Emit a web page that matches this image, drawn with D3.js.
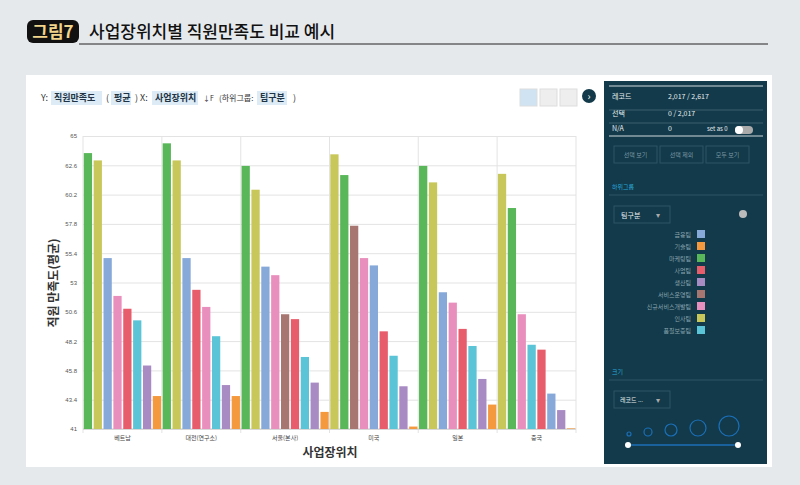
<!DOCTYPE html>
<html><head><meta charset="utf-8">
<script src="https://cdn.jsdelivr.net/npm/d3@7"></script>
<style>body{margin:0;background:#e6e9ec;font-family:"Noto Sans CJK KR","Noto Sans",sans-serif}</style>
</head><body><svg id="c" width="800" height="485"></svg>
<script>
const locations = ["베트남","대전(연구소)","서울(본사)","미국","일본","중국"];
const teams = ["금융팀","기술팀","마케팅팀","사업팀","생산팀","서비스운영팀","신규서비스개발팀","인사팀","품질보증팀"];
const teamColors = ["#86a9d9","#f5993f","#59b75a","#e85d6c","#a98bc4","#a87670","#e98fbd","#c8c75a","#5bc4d6"];
const groupTeams = [
 ["마케팅팀","인사팀","금융팀","신규서비스개발팀","사업팀","품질보증팀","생산팀","기술팀"],
 ["마케팅팀","인사팀","금융팀","사업팀","신규서비스개발팀","품질보증팀","생산팀","기술팀"],
 ["마케팅팀","인사팀","금융팀","신규서비스개발팀","서비스운영팀","사업팀","품질보증팀","생산팀","기술팀"],
 ["인사팀","마케팅팀","서비스운영팀","신규서비스개발팀","금융팀","사업팀","품질보증팀","생산팀","기술팀"],
 ["마케팅팀","인사팀","금융팀","신규서비스개발팀","사업팀","품질보증팀","생산팀","기술팀"],
 ["인사팀","마케팅팀","신규서비스개발팀","품질보증팀","사업팀","금융팀","생산팀","기술팀"]];
const groupValues = [
 [63.6,63.0,55.0,51.9,50.85,49.9,46.2,43.7],
 [64.4,63.0,55.0,52.4,51.0,48.6,44.6,43.7],
 [62.55,60.6,54.3,53.6,50.4,50.0,46.9,44.8,42.4],
 [63.5,61.8,57.65,55.0,54.4,49.0,47.0,44.5,41.2],
 [62.55,61.2,52.2,51.35,49.2,47.8,45.1,43.0],
 [61.9,59.1,50.4,47.9,47.5,43.9,42.55,41.05]];
const yTicks = [41,43.4,45.8,48.2,50.6,53,55.4,57.8,60.2,62.6,65];

const svg = d3.select("#c");
const color = d3.scaleOrdinal(teams, teamColors);
// header
svg.append("rect").attr("x",27).attr("y",20).attr("width",52).attr("height",23).attr("rx",6).attr("fill","#111");
svg.append("text").attr("x",53).attr("y",38).attr("text-anchor","middle").attr("fill","#f0d58a").attr("font-size",17).attr("font-weight",700).text("그림7");
svg.append("text").attr("x",89).attr("y",38).attr("fill","#111").attr("font-size",17).attr("font-weight",500).text("사업장위치별 직원만족도 비교 예시");
svg.append("line").attr("x1",79).attr("x2",768).attr("y1",44).attr("y2",44).attr("stroke","#222");
svg.append("rect").attr("x",26).attr("y",75).attr("width",746).attr("height",392).attr("fill","#fff");

// chart
let bars=[]; let bounds=[0]; let idx=0;
groupValues.forEach((vs,g)=>{vs.forEach((v,i)=>{bars.push({g,i:idx,v,t:groupTeams[g][i]});idx++;});bounds.push(idx);});
const x = d3.scaleLinear().domain([0,idx]).range([83,576]);
const y = d3.scaleLinear().domain([41,65]).range([429,136]);
const gy = svg.append("g").attr("transform","translate(83,0)").call(d3.axisLeft(y).tickValues(yTicks).tickSize(-493).tickPadding(6).tickFormat(d=>d));
gy.select(".domain").remove();
gy.selectAll("line").attr("stroke","#e3e3e3");
gy.selectAll("text").attr("font-size",6).attr("fill","#555");
svg.selectAll(".vb").data(bounds).join("line").attr("x1",d=>x(d)).attr("x2",d=>x(d)).attr("y1",136).attr("y2",433).attr("stroke","#e3e3e3");
svg.append("line").attr("x1",83).attr("x2",576).attr("y1",429).attr("y2",429).attr("stroke","#ccc");
svg.selectAll(".bar").data(bars).join("rect").attr("x",d=>x(d.i)+0.8).attr("width",x(1)-x(0)-1.6)
 .attr("y",d=>y(d.v)).attr("height",d=>429-y(d.v)).attr("fill",d=>color(d.t));
svg.selectAll(".xl").data(locations).join("text").attr("x",(d,i)=>(x(bounds[i])+x(bounds[i+1]))/2).attr("y",440)
 .attr("text-anchor","middle").attr("font-size",6).attr("fill","#444").text(d=>d);
svg.append("text").attr("x",330).attr("y",457).attr("text-anchor","middle").attr("font-size",12).attr("font-weight",700).attr("fill","#333").text("사업장위치");
svg.append("text").attr("transform","translate(58,283) rotate(-90)").attr("text-anchor","middle").attr("font-size",12).attr("font-weight",700).attr("fill","#333").text("직원 만족도(평균)");

// toolbar
const tb = svg.append("g").attr("font-size",9).attr("fill","#333");
tb.append("text").attr("x",41).attr("y",101).text("Y:");
function pill(px,w,t){tb.append("rect").attr("x",px).attr("y",91).attr("width",w).attr("height",14).attr("fill","#dcebf5");tb.append("text").attr("x",px+3).attr("y",101).attr("font-weight",700).attr("fill","#234").text(t);}
pill(51,51,"직원만족도"); tb.append("text").attr("x",106).attr("y",101).text("(");
pill(111,20,"평균"); tb.append("text").attr("x",135).attr("y",101).text(")  X:");
pill(152,46,"사업장위치"); tb.append("text").attr("x",203).attr("y",101).attr("font-size",7).text("↓F");
tb.append("text").attr("x",219).attr("y",101).attr("font-size",8).text("(하위그룹:");
pill(257,30,"팀구분"); tb.append("text").attr("x",293).attr("y",101).text(")");
[520,540,560].forEach((bx,i)=>svg.append("rect").attr("x",bx).attr("y",89).attr("width",17).attr("height",17).attr("fill",i==0?"#cfe3f3":"#eee").attr("stroke","#ddd"));
svg.append("circle").attr("cx",589).attr("cy",96).attr("r",7).attr("fill","#123a4a");
svg.append("text").attr("x",589).attr("y",100).attr("text-anchor","middle").attr("fill","#fff").attr("font-size",10).text("›");

// side panel
const p = svg.append("g");
p.append("rect").attr("x",604).attr("y",81).attr("width",163).attr("height",383).attr("fill","#123a4a");
[86,123,136].forEach(yy=>p.append("line").attr("x1",609).attr("x2",763).attr("y1",yy).attr("y2",yy).attr("stroke",yy==86||yy==136?"#cfd8dc":"#3d6070"));
p.append("line").attr("x1",609).attr("x2",763).attr("y1",110).attr("y2",110).attr("stroke","#3d6070");
const pt=(xx,yy,t,fs,c)=>p.append("text").attr("x",xx).attr("y",yy).attr("font-size",fs||7).attr("fill",c||"#e8eef0").text(t);
pt(612,99,"레코드");pt(668,99,"2,017 / 2,617");pt(612,116,"선택");pt(668,116,"0 / 2,017");pt(612,131,"N/A");pt(668,131,"0");pt(707,131,"set as 0",6);
p.append("rect").attr("x",735).attr("y",126).attr("width",18).attr("height",8).attr("rx",4).attr("fill","#aaa");
p.append("circle").attr("cx",739).attr("cy",130).attr("r",4).attr("fill","#fff");
[["선택 보기",614],["선택 제외",660],["모두 보기",706]].forEach(([t,bx])=>{p.append("rect").attr("x",bx).attr("y",146).attr("width",43).attr("height",17).attr("fill","none").attr("stroke","#2d5566");pt(bx+21.5,157,t,6,"#7d98a3").attr("text-anchor","middle");});
pt(612,189,"하위그룹",6,"#2aa7d8");
p.append("line").attr("x1",609).attr("x2",763).attr("y1",195).attr("y2",195).attr("stroke","#2d5566");
p.append("rect").attr("x",614).attr("y",206).attr("width",56).attr("height",17).attr("fill","none").attr("stroke","#2d5566");
pt(621,218,"팀구분",7);pt(656,218,"▾",8,"#aaa");
p.append("circle").attr("cx",743).attr("cy",214).attr("r",4).attr("fill","#bbb");
p.selectAll(".lg").data(teams).join("g").each(function(d,i){const g=d3.select(this);const yy=234+i*12;
 g.append("rect").attr("x",697).attr("y",yy-4).attr("width",8).attr("height",8).attr("fill",color(d));
 g.append("text").attr("x",691).attr("y",yy+3).attr("text-anchor","end").attr("font-size",6).attr("fill","#8aa3ad").text(d);});
pt(612,374,"크기",6,"#2aa7d8");
p.append("line").attr("x1",609).attr("x2",763).attr("y1",380).attr("y2",380).attr("stroke","#2d5566");
p.append("rect").attr("x",614).attr("y",391).attr("width",56).attr("height",17).attr("fill","none").attr("stroke","#2d5566");
pt(620,402,"레코드 ...",6);pt(656,403,"▾",8,"#aaa");
[[629,2],[648,4],[671,6],[698,8],[729,10]].forEach(([cx,r])=>p.append("circle").attr("cx",cx).attr("cy",436-r).attr("r",r).attr("fill","none").attr("stroke","#1b6fb8").attr("stroke-width",1.2));
p.append("line").attr("x1",628).attr("x2",738).attr("y1",445).attr("y2",445).attr("stroke","#1b6fb8").attr("stroke-width",1.5);
[628,738].forEach(cx=>p.append("circle").attr("cx",cx).attr("cy",445).attr("r",3).attr("fill","#fff"));
</script></body></html>
